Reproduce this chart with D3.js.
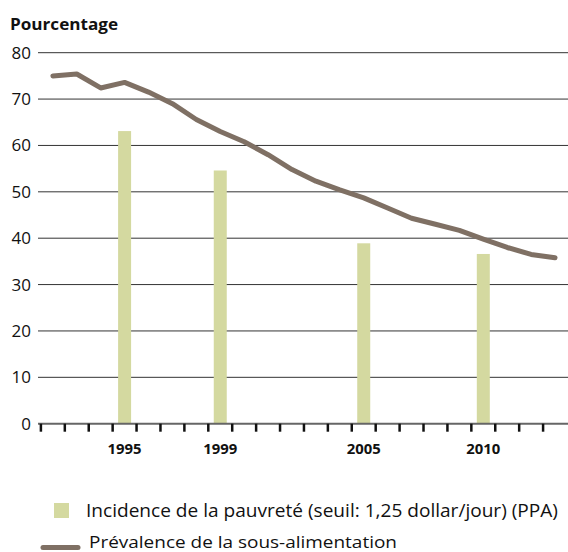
<!DOCTYPE html>
<html><head><meta charset="utf-8">
<script src="https://cdn.jsdelivr.net/npm/d3@7"></script>
<style>body{margin:0;background:#fff}svg{display:block}text{font-family:"Open Sans",sans-serif}</style>
</head><body><svg id="c" width="568" height="552"></svg>
<script>
const years = [1992,1993,1994,1995,1996,1997,1998,1999,2000,2001,2002,2003,2004,2005,2006,2007,2008,2009,2010,2011,2012,2013];
const undernourishment = [75.0,75.4,72.4,73.6,71.5,69.0,65.6,63.0,60.8,58.0,54.8,52.3,50.4,48.7,46.5,44.3,43.0,41.7,39.8,38.0,36.5,35.8];
const povertyYears = [1995,1999,2005,2010];
const povertyValues = [63.1,54.6,38.9,36.6];
const yTicks = [0,10,20,30,40,50,60,70,80];
const labeledYears = [1995,1999,2005,2010];
const legendLabels = ["Incidence de la pauvreté (seuil: 1,25 dollar/jour) (PPA)","Prévalence de la sous-alimentation"];

(function(){
const svg = d3.select("#c");
const mLeft = 40.9, mRight = 567, mTop = 52.7, mBottom = 423.7;
const x = d3.scaleBand().domain(years).range([mLeft, mRight]).paddingInner(0).paddingOuter(0);
const y = d3.scaleLinear().domain([0,80]).range([mBottom, mTop]);

svg.append("g").selectAll("line").data(yTicks.filter(d=>d>0)).join("line")
  .attr("x1", 38).attr("x2", 568).attr("y1", d=>y(d)).attr("y2", d=>y(d))
  .attr("stroke", "#333").attr("stroke-width", 1);

svg.append("g").selectAll("text").data(yTicks).join("text")
  .attr("x", 31).attr("y", d=>y(d)+6).attr("text-anchor","end")
  .attr("font-size", 17).attr("fill","#111").text(d=>d);

svg.append("text").attr("x", 10).attr("y", 30).attr("font-size", 16).attr("font-weight","bold").attr("fill","#111")
  .attr("textLength", 108).attr("lengthAdjust","spacingAndGlyphs").text("Pourcentage");

const bw = 13;
svg.append("g").selectAll("rect").data(povertyYears).join("rect")
  .attr("x", d=>x(d)+x.bandwidth()/2-bw/2).attr("width", bw)
  .attr("y", (d,i)=>y(povertyValues[i])).attr("height", (d,i)=>y(0)-y(povertyValues[i]))
  .attr("fill", "#d4d9a0");

const xAxis = d3.axisBottom(x).tickSize(0).tickFormat(d=>labeledYears.includes(d)?d:"");
const ax = svg.append("g").attr("transform", `translate(0,${mBottom})`).call(xAxis);
ax.select(".domain").remove();
ax.selectAll("text").attr("font-size", 15).attr("font-weight","bold").attr("fill","#111")
  .attr("font-family","'Open Sans',sans-serif").attr("dy", 0).attr("y", 30)
  .attr("textLength", 34).attr("lengthAdjust","spacingAndGlyphs");
svg.append("line").attr("x1", 38).attr("x2", 568).attr("y1", mBottom).attr("y2", mBottom)
  .attr("stroke", "#666").attr("stroke-width", 2);
const bounds = years.map(d=>x(d)).concat([x(years[years.length-1])+x.bandwidth()]);
svg.append("g").selectAll("line").data(bounds.filter(b=>b<567)).join("line")
  .attr("x1", d=>d).attr("x2", d=>d).attr("y1", mBottom).attr("y2", mBottom+8)
  .attr("stroke", "#111").attr("stroke-width", 2.5);

const line = d3.line().x((d,i)=>x(years[i])+x.bandwidth()/2).y(d=>y(d));
svg.append("path").datum(undernourishment).attr("d", line)
  .attr("fill","none").attr("stroke","#7f7064").attr("stroke-width",5)
  .attr("stroke-linecap","round").attr("stroke-linejoin","round");

svg.append("rect").attr("x", 54).attr("y", 503).attr("width", 15).attr("height", 15).attr("fill","#d4d9a0");
svg.append("text").attr("x", 86).attr("y", 517).attr("font-size", 17.5).attr("fill","#111")
  .attr("textLength", 472).attr("lengthAdjust","spacingAndGlyphs").text(legendLabels[0]);
svg.append("line").attr("x1", 43).attr("x2", 78).attr("y1", 547.5).attr("y2", 547.5)
  .attr("stroke","#7f7064").attr("stroke-width",5).attr("stroke-linecap","round");
svg.append("text").attr("x", 89).attr("y", 548).attr("font-size", 17).attr("fill","#111")
  .attr("textLength", 308).attr("lengthAdjust","spacingAndGlyphs").text(legendLabels[1]);
})();
</script></body></html>
